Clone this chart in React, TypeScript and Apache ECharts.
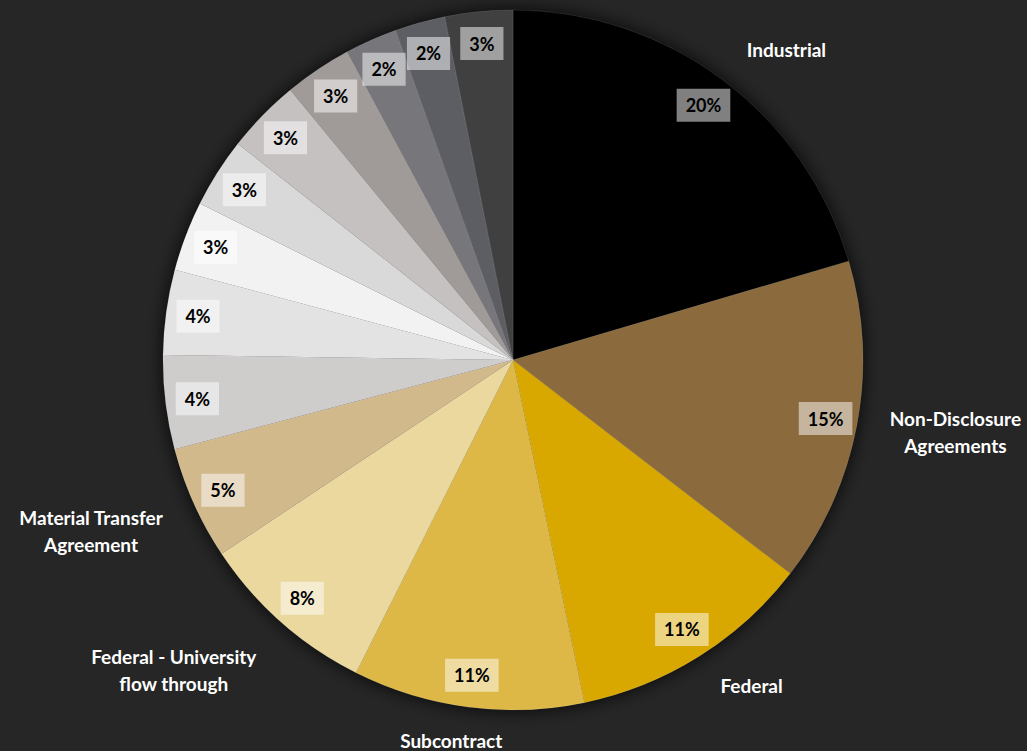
import React, { useEffect, useRef } from "react";
import * as echarts from "echarts";

const categories = [
  "Industrial",
  "Non-Disclosure\nAgreements",
  "Federal",
  "Subcontract",
  "Federal - University\nflow through",
  "Material Transfer\nAgreement",
  "Other A",
  "Other B",
  "Other C",
  "Other D",
  "Other E",
  "Other F",
  "Other G",
  "Other H",
  "Other I",
];
const values = [20.3, 14.9, 11.2, 10.6, 8.2, 5.2, 4.3, 3.9, 3.2, 3.2, 3.4, 3.1, 2.4, 2.3, 3.1];
const showName = [true, true, true, true, true, true, false, false, false, false, false, false, false, false, false];
const nameDistance = [63, 97, 54, 35, 109, 105, 0, 0, 0, 0, 0, 0, 0, 0, 0];
const nameShift = [
  [21, 20], [-2, -10], [19, -17], [-7, -1], [-30, -34], [-2, -16],
  [0, 0], [0, 0], [0, 0], [0, 0], [0, 0], [0, 0], [0, 0], [0, 0], [0, 0],
];
const colors = [
  "#000000", "#8B6B3D", "#D8A800", "#DDB846", "#EBD89F", "#D2B98C",
  "#CFCCCC", "#E3E3E3", "#F2F2F2", "#D9D9D9", "#C5C1C1", "#A09B98",
  "#77767A", "#5C5E64", "#404040",
];

export default function App() {
  const ref = useRef<HTMLDivElement>(null);
  useEffect(() => {
    const chart = echarts.init(ref.current!, null, { renderer: "svg" });
    const total = values.reduce((a, b) => a + b, 0);
    const labelFont = "Lato, 'Open Sans', sans-serif";
    chart.setOption({
      animation: false,
      backgroundColor: "#262626",
      series: [
        {
          type: "pie",
          silent: true,
          center: [513, 360],
          radius: [0, 350],
          label: { show: false },
          labelLine: { show: false },
          itemStyle: { color: "#262626", shadowBlur: 18, shadowColor: "rgba(0,0,0,0.85)" },
          data: [{ value: total, name: "bg" }],
          z: 1,
        },
        {
          type: "pie",
          center: [513, 360],
          radius: [0, 350],
          startAngle: 90,
          clockwise: true,
          avoidLabelOverlap: false,
          silent: true,
          itemStyle: { borderColor: "rgba(255,255,255,0.2)", borderWidth: 0.5 },
          label: {
            show: true,
            position: "outside",
            color: "#FFFFFF",
            fontFamily: labelFont,
            fontWeight: "bold",
            fontSize: 19,
            lineHeight: 27,
            align: "center",
            formatter: (p: any) => p.name,
          },
          labelLine: { show: false, length2: 0 },
          labelLayout: (p: any) => ({
            align: "center",
            verticalAlign: "middle",
            dx: nameShift[p.dataIndex][0],
            dy: nameShift[p.dataIndex][1],
          }),
          data: categories.map((c, i) => ({
            name: c,
            value: values[i],
            itemStyle: { color: colors[i] },
            label: { show: showName[i] },
            labelLine: { show: false, length: nameDistance[i], length2: 0 },
          })),
          z: 2,
        },
        {
          type: "pie",
          center: [513, 360],
          radius: [280, 350],
          startAngle: 90,
          clockwise: true,
          silent: true,
          itemStyle: { color: "rgba(0,0,0,0)" },
          label: {
            show: true,
            position: "inside",
            color: "#000000",
            fontFamily: labelFont,
            fontWeight: "bold",
            fontSize: 18,
            backgroundColor: "rgba(255,255,255,0.5)",
            padding: [8, 9, 7, 9],
            formatter: (p: any) => Math.round((p.value / total) * 100) + "%",
          },
          labelLine: { show: false },
          data: categories.map((c, i) => ({ name: c, value: values[i] })),
          z: 3,
        },
      ],
    });
    return () => chart.dispose();
  }, []);
  return (
    <div
      ref={ref}
      style={{ position: "fixed", left: 0, top: 0, width: 1027, height: 751 }}
    />
  );
}
